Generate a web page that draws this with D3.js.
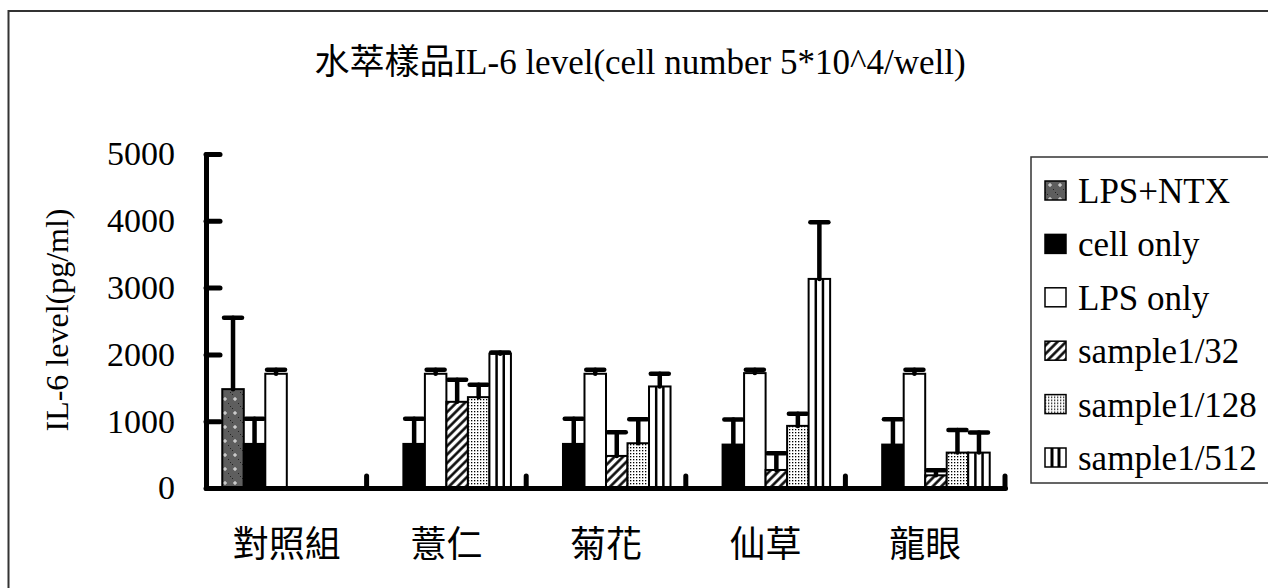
<!DOCTYPE html>
<html lang="zh-Hant">
<head>
  <meta charset="UTF-8">
  <title>IL-6 level</title>
  <style>
    body { margin: 0; background: #fff; }
    text { font-family: "Liberation Serif", "Noto Sans CJK TC", serif; fill: #000; }
  </style>
</head>
<body>
  <svg id="mainsvg" width="1268" height="588"></svg>
  <script src="https://cdn.jsdelivr.net/npm/d3@7/dist/d3.min.js"></script>
  <script>
    // 類別與系列
    const categories = ['對照組', '薏仁', '菊花', '仙草', '龍眼']
    const series = ['LPS+NTX', 'cell only', 'LPS only', 'sample1/32', 'sample1/128', 'sample1/512']
    const yTicks = [0, 1000, 2000, 3000, 4000, 5000]

    // 平均值 (pg/ml)
    const lpsNtx = [1480, 0, 0, 0, 0]
    const cellOnly = [660, 660, 660, 650, 650]
    const lpsOnly = [1710, 1710, 1710, 1720, 1710]
    const sample32 = [0, 1290, 480, 270, 190]
    const sample128 = [0, 1360, 670, 930, 530]
    const sample512 = [0, 2010, 1520, 3130, 530]

    // 誤差 (只畫上方)
    const lpsNtxErr = [1070, 0, 0, 0, 0]
    const cellOnlyErr = [375, 375, 375, 375, 380]
    const lpsOnlyErr = [60, 60, 60, 50, 60]
    const sample32Err = [0, 330, 355, 250, 75]
    const sample128Err = [0, 185, 360, 180, 340]
    const sample512Err = [0, 20, 190, 850, 300]

    const valueList = [lpsNtx, cellOnly, lpsOnly, sample32, sample128, sample512]
    const errList = [lpsNtxErr, cellOnlyErr, lpsOnlyErr, sample32Err, sample128Err, sample512Err]
    const fills = ['url(#ntx)', '#000', '#fff', 'url(#hatch)', 'url(#dots)', '#fff']

    const bars = []
    series.forEach((s, i) => {
      categories.forEach((c, j) => {
        if (valueList[i][j] > 0) bars.push({ series: s, cat: c, value: valueList[i][j], err: errList[i][j], fill: fills[i] })
      })
    })

    const svg = d3.select('#mainsvg')
    const width = +svg.attr('width')
    const height = +svg.attr('height')

    svg.append('rect').attr('width', width).attr('height', height).attr('fill', '#fff')

    // 花紋
    const defs = svg.append('defs')
    const ntx = defs.append('pattern').attr('id', 'ntx').attr('patternUnits', 'userSpaceOnUse')
      .attr('width', 10).attr('height', 14)
    ntx.append('rect').attr('width', 10).attr('height', 14).attr('fill', '#5e5e5e')
    ntx.append('path').attr('d', 'M5,5V9M3,7H7').attr('stroke', '#eee').attr('stroke-width', 1)
    ntx.append('path').attr('d', 'M0,0h1v1h-1zM2,2h1v1h-1zM8,11h1v1h-1z').attr('fill', '#222')

    const hatch = defs.append('pattern').attr('id', 'hatch').attr('patternUnits', 'userSpaceOnUse')
      .attr('width', 6).attr('height', 6).attr('patternTransform', 'rotate(45)')
    hatch.append('rect').attr('width', 6).attr('height', 6).attr('fill', '#fff')
    hatch.append('line').attr('x1', 1.5).attr('x2', 1.5).attr('y1', 0).attr('y2', 6)
      .attr('stroke', '#000').attr('stroke-width', 2.5)

    const dots = defs.append('pattern').attr('id', 'dots').attr('patternUnits', 'userSpaceOnUse')
      .attr('width', 3).attr('height', 3)
    dots.append('rect').attr('width', 3).attr('height', 3).attr('fill', '#fff')
    dots.append('rect').attr('width', 1.3).attr('height', 1.3).attr('fill', '#000')

    // 外框
    svg.append('rect').attr('x', 8.5).attr('y', 11).attr('width', 1400).attr('height', 800)
      .attr('fill', 'none').attr('stroke', '#333').attr('stroke-width', 2)

    // 比例尺
    const x0 = d3.scaleBand().domain(categories).range([207, 1005]).paddingInner(0).paddingOuter(0)
    const x1 = d3.scaleBand().domain(series).range([0, x0.bandwidth()]).paddingInner(0).paddingOuter(0.71)
    const y = d3.scaleLinear().domain([0, 5000]).range([488, 154])

    const g = svg.append('g')

    // 長條
    g.selectAll('.bar').data(bars).join('rect')
      .attr('class', 'bar')
      .attr('x', d => x0(d.cat) + x1(d.series))
      .attr('y', d => y(d.value))
      .attr('width', x1.bandwidth())
      .attr('height', d => y(0) - y(d.value))
      .attr('fill', d => d.fill)
      .attr('stroke', '#000')
      .attr('stroke-width', 2)

    // 1/512 的直條紋
    const stripes = bars.filter(d => d.series === 'sample1/512')
    ;[1 / 3, 2 / 3].forEach(f => {
      g.selectAll(null).data(stripes).join('line')
        .attr('x1', d => x0(d.cat) + x1(d.series) + x1.bandwidth() * f)
        .attr('x2', d => x0(d.cat) + x1(d.series) + x1.bandwidth() * f)
        .attr('y1', d => y(d.value))
        .attr('y2', y(0))
        .attr('stroke', '#000').attr('stroke-width', 2.5)
    })

    // 誤差線
    const eb = g.selectAll('.err').data(bars).join('g').attr('class', 'err')
      .attr('stroke', '#000').attr('stroke-width', 4.5).attr('stroke-linecap', 'round')
    const cx = d => x0(d.cat) + x1(d.series) + x1.bandwidth() / 2
    eb.append('line').attr('x1', cx).attr('x2', cx)
      .attr('y1', d => y(d.value)).attr('y2', d => y(d.value + d.err))
    eb.append('line').attr('x1', d => cx(d) - 9).attr('x2', d => cx(d) + 9)
      .attr('y1', d => y(d.value + d.err)).attr('y2', d => y(d.value + d.err))

    // y 軸
    const yAxis = d3.axisLeft(y).tickValues(yTicks).tickFormat(d3.format('d'))
      .tickSize(-14).tickSizeOuter(0).tickPadding(31)
    const yg = g.append('g').attr('transform', 'translate(206,0)').call(yAxis)
    yg.select('.domain').attr('stroke-width', 5).attr('stroke-linecap', 'round')
    yg.selectAll('.tick line').attr('stroke-width', 5).attr('stroke-linecap', 'round')
    yg.selectAll('.tick text').attr('font-size', 34).style('font-family', '"Liberation Serif", serif')

    // x 軸
    const xAxis = d3.axisBottom(x0).tickSize(0).tickSizeOuter(0).tickPadding(43)
    const xg = g.append('g').attr('transform', `translate(0,${y(0)})`).call(xAxis)
    xg.select('.domain').attr('stroke-width', 5).attr('stroke-linecap', 'round')
    xg.selectAll('.tick text').attr('font-size', 36).style('font-family', '"Noto Sans CJK TC", sans-serif')

    // 類別分隔刻度
    g.selectAll('.sep').data(categories).join('line')
      .attr('x1', d => x0(d) + x0.bandwidth()).attr('x2', d => x0(d) + x0.bandwidth())
      .attr('y1', y(0)).attr('y2', y(0) - 12)
      .attr('stroke', '#000').attr('stroke-width', 5).attr('stroke-linecap', 'round')

    // y 軸標題
    svg.append('text').text('IL-6 level(pg/ml)')
      .attr('transform', 'translate(68,320) rotate(-90)')
      .attr('text-anchor', 'middle').attr('font-size', 32)

    // 標題
    svg.append('text').text('水萃樣品IL-6 level(cell number 5*10^4/well)')
      .attr('x', 640).attr('y', 74)
      .attr('text-anchor', 'middle').attr('font-size', 35)

    // 圖例
    const legend = svg.append('g')
    legend.append('rect').attr('x', 1031).attr('y', 157).attr('width', 400).attr('height', 326)
      .attr('fill', '#fff').attr('stroke', '#333').attr('stroke-width', 1.5)
    const rowY = d3.scalePoint().domain(series).range([192, 459])
    const item = legend.selectAll('.item').data(series).join('g').attr('class', 'item')
      .attr('transform', d => `translate(1045,${rowY(d)})`)
    item.append('rect').attr('x', 0).attr('y', -11).attr('width', 21).attr('height', 19)
      .attr('fill', (d, i) => fills[i]).attr('stroke', '#000').attr('stroke-width', 1.5)
    item.filter(d => d === 'sample1/512').selectAll('line').data([7, 14]).join('line')
      .attr('x1', d => d).attr('x2', d => d).attr('y1', -11).attr('y2', 8)
      .attr('stroke', '#000').attr('stroke-width', 3)
    item.append('text').text(d => d).attr('x', 33).attr('y', 11).attr('font-size', 35)
      .style('font-family', '"Liberation Serif", serif')
  </script>
</body>
</html>
